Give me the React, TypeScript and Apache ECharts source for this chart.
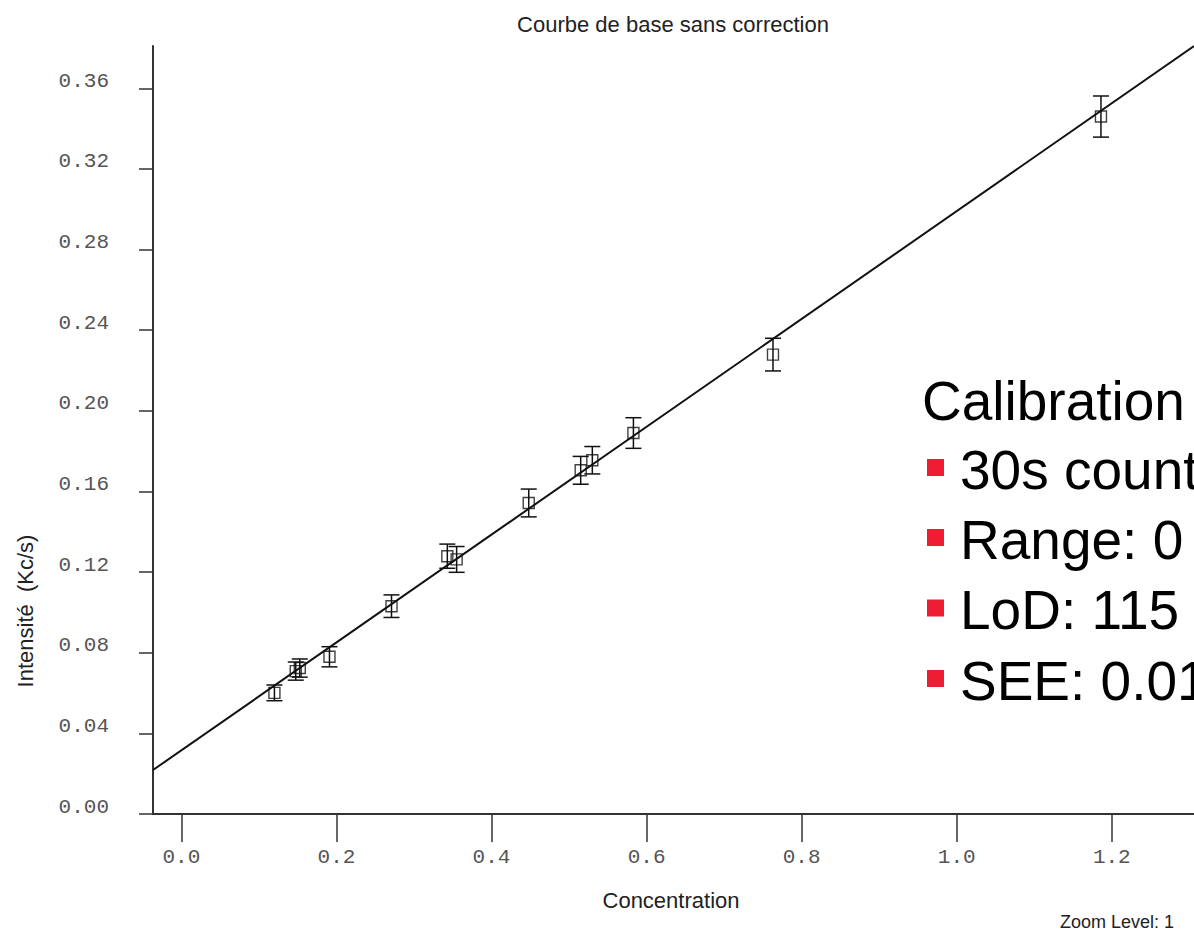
import React, { useEffect, useRef } from "react";
import * as echarts from "echarts";

// ---- data ----
const CONCENTRATION = [0.12, 0.1475, 0.1527, 0.191, 0.271, 0.343, 0.355, 0.448, 0.515, 0.53, 0.583, 0.763, 1.186];
const INTENSITY = [0.0601, 0.0709, 0.0724, 0.078, 0.1031, 0.1279, 0.1263, 0.1543, 0.1705, 0.1755, 0.189, 0.2279, 0.346];
const ERROR = [0.0039, 0.0045, 0.0045, 0.005, 0.0056, 0.006, 0.0064, 0.0069, 0.0069, 0.0068, 0.0076, 0.0081, 0.0102];

const FIT_INTERCEPT = 0.0316;
const FIT_SLOPE = 0.2675;

const X_MIN = -0.0366;
const X_MAX = 1.306;
const Y_MIN = 0;
const Y_MAX = 0.381;
const X_TICKS = [0.0, 0.2, 0.4, 0.6, 0.8, 1.0, 1.2];
const Y_TICKS = [0.0, 0.04, 0.08, 0.12, 0.16, 0.2, 0.24, 0.28, 0.32, 0.36];

const TITLE = "Courbe de base sans correction";
const X_NAME = "Concentration";
const Y_NAME = "Intensité  (Kc/s)";
const HEADING = "Calibration";
const BULLETS = ["30s count", "Range: 0", "LoD: 115", "SEE: 0.01"];
const FOOTER = "Zoom Level: 1";

export default function App() {
  const ref = useRef<HTMLDivElement>(null);

  useEffect(() => {
    document.body.style.margin = "0";
    const chart = echarts.init(ref.current!, null, { renderer: "svg" });

    const fitLine = [
      [X_MIN, FIT_INTERCEPT + FIT_SLOPE * X_MIN],
      [X_MAX, FIT_INTERCEPT + FIT_SLOPE * X_MAX],
    ];
    const points = CONCENTRATION.map((x, i) => [x, INTENSITY[i]]);
    const errs = CONCENTRATION.map((x, i) => [x, INTENSITY[i], ERROR[i]]);

    const sans = "Liberation Sans, Arial, sans-serif";
    const mono = "Liberation Mono, Courier New, monospace";
    const axisColor = "#333";

    const bulletCenters = [467.5, 537.5, 608, 678.5];

    const graphics: any[] = [
      {
        type: "text",
        x: 673,
        y: 24,
        style: { text: TITLE, x: 0, y: 0, font: `22px ${sans}`, fill: "#222", textAlign: "center", textVerticalAlign: "middle" },
      },
      {
        type: "text",
        x: 671,
        y: 900,
        style: { text: X_NAME, x: 0, y: 0, font: `22px ${sans}`, fill: "#222", textAlign: "center", textVerticalAlign: "middle" },
      },
      {
        type: "text",
        x: 25,
        y: 611,
        rotation: Math.PI / 2,
        style: { text: Y_NAME, x: 0, y: 0, font: `22px ${sans}`, fill: "#222", textAlign: "center", textVerticalAlign: "middle" },
      },
      {
        type: "text",
        x: 1060,
        y: 922,
        style: { text: FOOTER, x: 0, y: 0, font: `18px ${sans}`, fill: "#222", textAlign: "left", textVerticalAlign: "middle" },
      },
      {
        type: "text",
        x: 922,
        y: 401,
        style: { text: HEADING, x: 0, y: 0, font: `55px ${sans}`, fill: "#000", textAlign: "left", textVerticalAlign: "middle" },
      },
    ];
    BULLETS.forEach((b, i) => {
      graphics.push({
        type: "rect",
        shape: { x: 927, y: bulletCenters[i] - 8.5, width: 17, height: 17 },
        style: { fill: "#ee1d34" },
      });
      graphics.push({
        type: "text",
        x: 960,
        y: bulletCenters[i] + 2,
        style: { text: b, x: 0, y: 0, font: `55px ${sans}`, fill: "#000", textAlign: "left", textVerticalAlign: "middle" },
      });
    });

    chart.setOption({
      animation: false,
      backgroundColor: "#fff",
      grid: { left: 153, right: 0, top: 46, bottom: 117, containLabel: false },
      xAxis: {
        type: "value",
        min: X_MIN,
        max: X_MAX,
        splitLine: { show: false },
        axisLine: { show: true, onZero: false, lineStyle: { color: axisColor, width: 2 } },
        axisTick: { show: true, length: 28, customValues: X_TICKS, lineStyle: { color: axisColor, width: 1.5 } },
        axisLabel: {
          customValues: X_TICKS,
          formatter: (v: number) => v.toFixed(1),
          fontFamily: mono,
          fontSize: 21,
          color: "#555",
          margin: 36,
          lineHeight: 14,
          verticalAlign: "top",
        },
      },
      yAxis: {
        type: "value",
        min: Y_MIN,
        max: Y_MAX,
        splitLine: { show: false },
        axisLine: { show: true, onZero: false, lineStyle: { color: axisColor, width: 2 } },
        axisTick: { show: true, length: 14, customValues: Y_TICKS, lineStyle: { color: axisColor, width: 1.5 } },
        axisLabel: {
          customValues: Y_TICKS,
          formatter: (v: number) => v.toFixed(2),
          fontFamily: mono,
          fontSize: 21,
          color: "#555",
          margin: 44,
          lineHeight: 14,
          verticalAlign: "bottom",
        },
      },
      series: [
        {
          type: "line",
          data: fitLine,
          symbol: "none",
          lineStyle: { color: "#111", width: 2 },
          z: 2,
        },
        {
          type: "custom",
          data: errs,
          z: 3,
          renderItem: (params: any, api: any) => {
            const x = api.value(0);
            const y = api.value(1);
            const e = api.value(2);
            const top = api.coord([x, y + e]);
            const bot = api.coord([x, y - e]);
            const hw = 8;
            const st = { stroke: "#111", lineWidth: 1.5 };
            return {
              type: "group",
              children: [
                { type: "line", shape: { x1: top[0], y1: top[1], x2: bot[0], y2: bot[1] }, style: st },
                { type: "line", shape: { x1: top[0] - hw, y1: top[1], x2: top[0] + hw, y2: top[1] }, style: st },
                { type: "line", shape: { x1: bot[0] - hw, y1: bot[1], x2: bot[0] + hw, y2: bot[1] }, style: st },
              ],
            };
          },
        },
        {
          type: "scatter",
          data: points,
          symbol: "rect",
          symbolSize: 11,
          z: 4,
          itemStyle: { color: "rgba(255,255,255,0)", borderColor: "#111", borderWidth: 1.4 },
        },
      ],
      graphic: graphics,
    });

    return () => chart.dispose();
  }, []);

  return <div ref={ref} style={{ width: 1194, height: 931 }} />;
}
